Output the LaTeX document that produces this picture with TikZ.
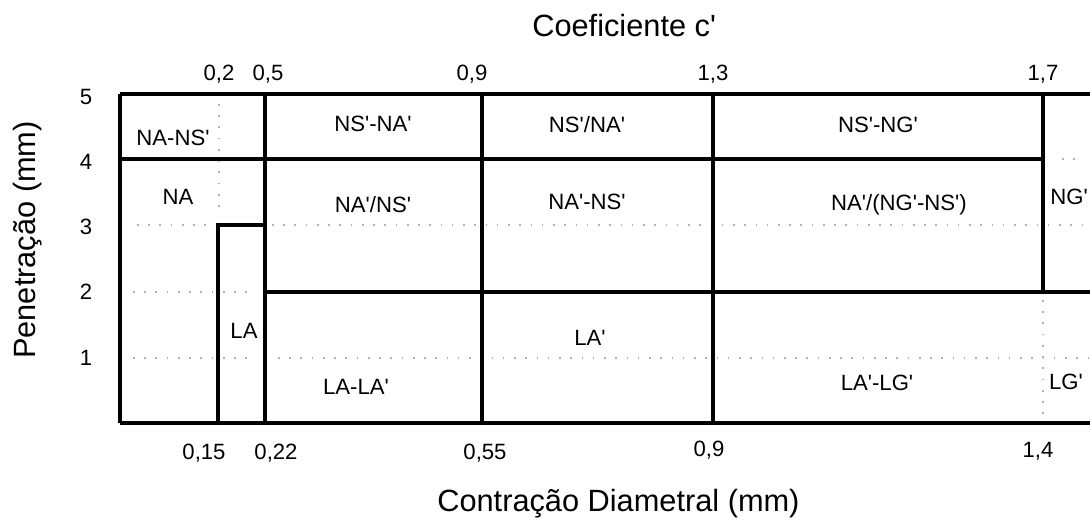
\documentclass[tikz,border=0pt]{standalone}
\usepackage{fontspec}
\setmainfont{Liberation Sans}[Ligatures=TeXOff]
\usetikzlibrary{positioning}
\tikzstyle{frame} = [draw, line width=2.2pt]
\tikzstyle{cell} = [draw, line width=1.8pt]
\tikzstyle{guide} = [draw, gray!60, line width=0.9pt, dash pattern=on 0.9pt off 5.5pt]
\tikzstyle{region} = [font=\fontsize{12.6}{15}\selectfont, inner sep=0pt]
\tikzstyle{tick} = [font=\fontsize{12.6}{15}\selectfont, inner sep=0pt]
\tikzstyle{axis title} = [font=\fontsize{17.5}{21}\selectfont, inner sep=0pt]

\begin{document}
\begin{tikzpicture}[x=0.02cm, y=-0.02cm]
      \useasboundingbox (0,0) rectangle (1090,523);
      % dotted guides
      \path [guide] (137,225) -- (210,225);
      \path [guide] (272,225) -- (1090,225);
      \path [guide] (133,292) -- (253,292);
      \path [guide] (133,358) -- (253,358);
      \path [guide] (278,358) -- (1090,358);
      \path [guide] (219,104) -- (219,216);
      \path [guide] (1043,300) -- (1043,420);
      \path [guide] (1062,159) -- (1082,159);
      % frame and cells
      \path [frame] (120,94) -- (1090,94);
      \path [frame] (120,423) -- (1090,423);
      \path [frame] (120,94) -- (120,423);
      \path [frame] (265,94) -- (265,423);
      \path [frame] (482,94) -- (482,423);
      \path [frame] (713,94) -- (713,423);
      \path [frame] (1043,94) -- (1043,292);
      \path [frame] (218,423) -- (218,225) -- (265,225);
      \path [cell] (120,159) -- (1043,159);
      \path [cell] (265,292) -- (1090,292);
      % regions
      \node [region] (na-ns) at (173,138) {NA-NS'};
      \node [region] (na) at (178,197) {NA};
      \node [region] (la) at (244,331) {LA};
      \node [region] (ns-na-a) at (373,124) {NS'-NA'};
      \node [region] (na-ns-a) at (373,205) {NA'/NS'};
      \node [region] (la-la) at (356,387) {LA-LA'};
      \node [region] (ns-na-b) at (587,125) {NS'/NA'};
      \node [region] (na-ns-b) at (587,202) {NA'-NS'};
      \node [region] (la-b) at (590,338) {LA'};
      \node [region] (ns-ng) at (878,125) {NS'-NG'};
      \node [region] (na-ng) at (899,205) {NA'/(NG'-NS')};
      \node [region] (la-lg) at (877,383) {LA'-LG'};
      \node [region, anchor=west] (ng) at (1050,197) {NG'};
      \node [region] (lg) at (1066,382) {LG'};
      % upper scale
      \node [tick] (c-02) at (219,74) {0,2};
      \node [tick] (c-05) at (268,74) {0,5};
      \node [tick] (c-09) at (472,74) {0,9};
      \node [tick] (c-13) at (713,74) {1,3};
      \node [tick] (c-17) at (1043,74) {1,7};
      % lower scale
      \node [tick] (d-015) at (204,453) {0,15};
      \node [tick] (d-022) at (276,453) {0,22};
      \node [tick] (d-055) at (485,453) {0,55};
      \node [tick] (d-09) at (709,450) {0,9};
      \node [tick] (d-14) at (1038,451) {1,4};
      % depth scale
      \node [tick] (p-5) at (86,97) {5};
      \node [tick] (p-4) at (86,162) {4};
      \node [tick] (p-3) at (86,227) {3};
      \node [tick] (p-2) at (86,292) {2};
      \node [tick] (p-1) at (86,358) {1};
      % titles
      \node [axis title, anchor=base west] (coef) at (532,37) {Coeficiente c'};
      \node [axis title, anchor=base west] (contr) at (437,512) {Contração Diametral (mm)};
      \node [axis title, rotate=90] (pen) at (28,240) {Penetração (mm)};
\end{tikzpicture}
\end{document}
